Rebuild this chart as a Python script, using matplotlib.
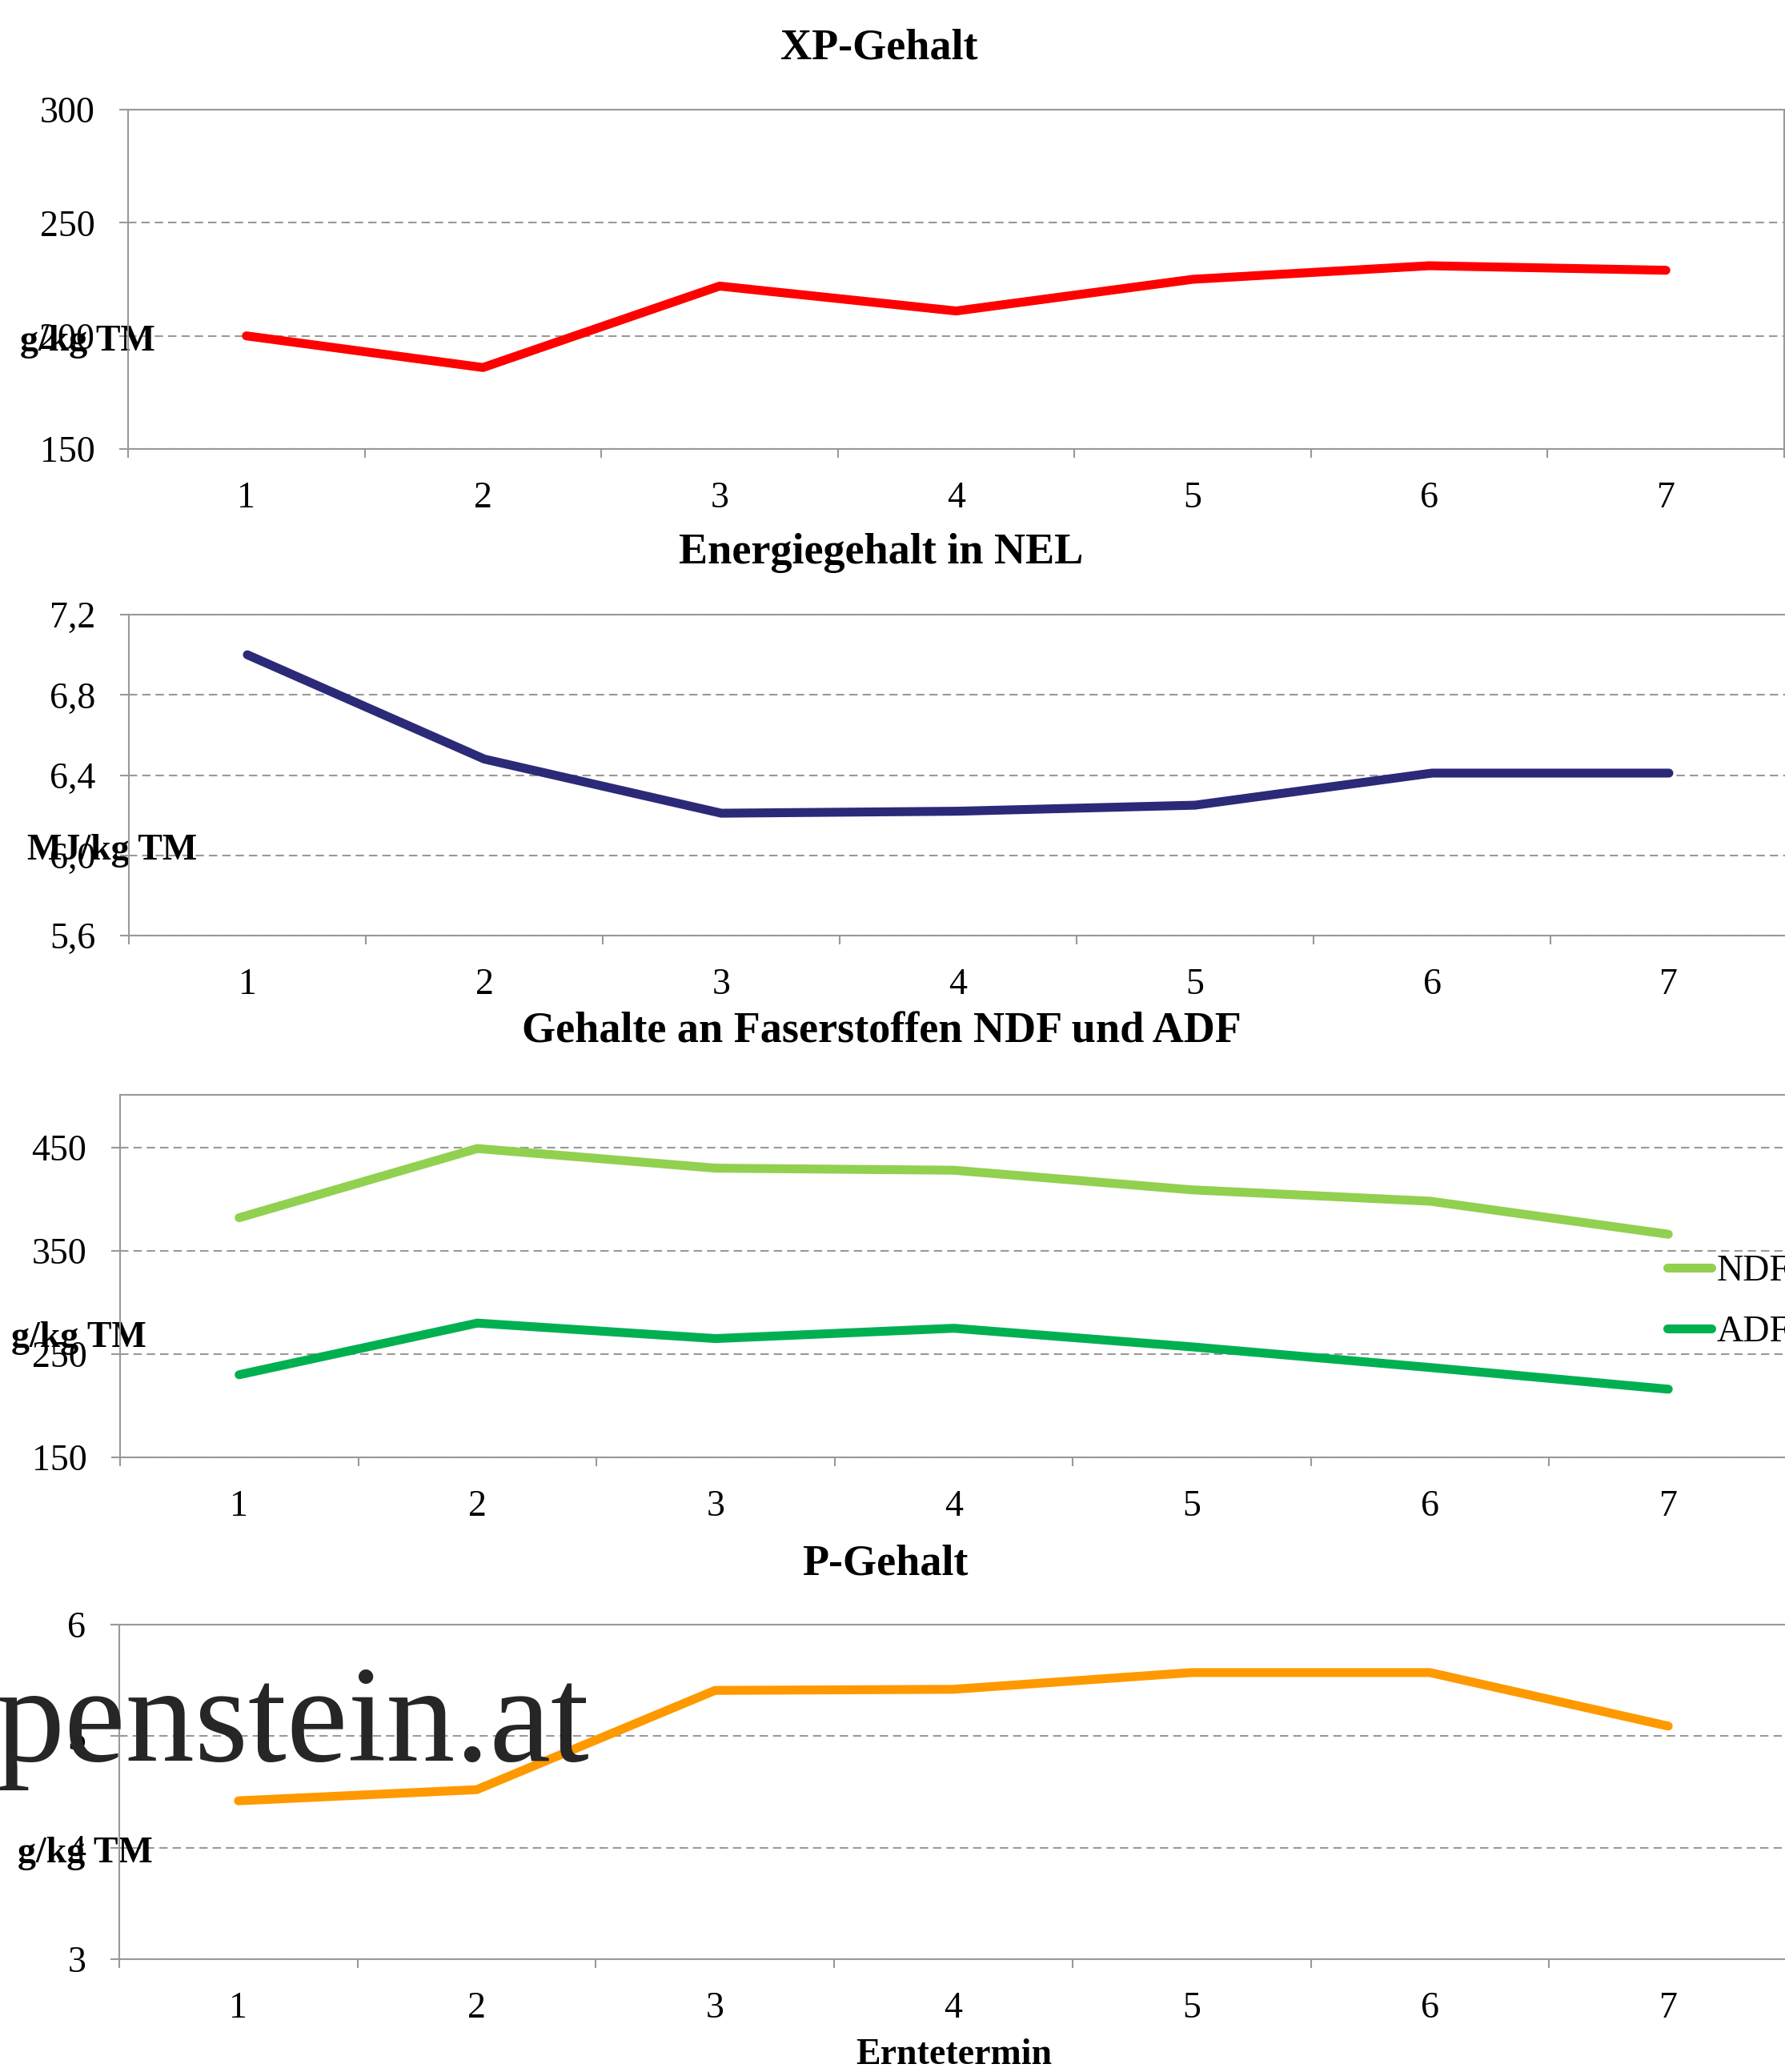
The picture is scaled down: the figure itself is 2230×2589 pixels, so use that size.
import matplotlib
matplotlib.use("Agg")
import numpy as np
from matplotlib import pyplot as plt
from matplotlib.ticker import FuncFormatter

plt.rcParams['font.family'] = ['Liberation Serif', 'DejaVu Serif']

# Daten
termine = [1, 2, 3, 4, 5, 6, 7]
xp = [200, 186, 222, 211, 225, 231, 229]
nel = [7.00, 6.48, 6.21, 6.22, 6.25, 6.41, 6.41]
ndf = [382, 449, 430, 428, 409, 398, 366]
adf = [230, 280, 265, 275, 257, 237, 216]
p_gehalt = [4.42, 4.52, 5.41, 5.42, 5.57, 5.57, 5.09]

W, H = 2230, 2589
fig = plt.figure(figsize=(W / 100, H / 100), dpi=100)


def box(l, t, r, b):
    return [l / W, 1 - b / H, (r - l) / W, (b - t) / H]


def grundform(ax, ylim, yticks, fmt=None):
    ax.set_xlim(0.5, 7.5)
    ax.set_ylim(*ylim)
    ax.set_yticks(yticks)
    if fmt:
        ax.yaxis.set_major_formatter(FuncFormatter(fmt))
    ax.set_xticks(np.arange(0.5, 8, 1))
    ax.set_xticklabels([])
    ax.set_xticks(termine, minor=True)
    ax.set_xticklabels([str(t) for t in termine], minor=True)
    ax.tick_params(axis='x', which='major', length=8, width=1.5, color='#999999')
    ax.tick_params(axis='x', which='minor', length=0, pad=29, labelsize=33)
    ax.tick_params(axis='y', length=8, width=1.5, color='#999999', pad=22, labelsize=33)
    for s in ax.spines.values():
        s.set_color('#999999')
        s.set_linewidth(1.5)
    ax.yaxis.grid(True, color='#999999', lw=1.5, dashes=(5, 3))
    ax.set_axisbelow(True)


def beschriftung(ax, text, x, y):
    ax.set_ylabel(text, rotation=0, fontsize=33, fontweight='bold', ha='center', va='center')
    ax.yaxis.set_label_coords(x / W, 1 - y / H, transform=fig.transFigure)


def titel(text, x, y, size=39):
    fig.text(x / W, 1 - y / H, text, ha='center', va='center', fontsize=size, fontweight='bold')


komma = lambda v, pos: ('%.1f' % v).replace('.', ',')

# XP-Gehalt
ax1 = fig.add_axes(box(160, 137, 2229, 561))
grundform(ax1, (150, 300), [150, 200, 250, 300])
ax1.plot(termine, xp, color='#ff0000', lw=8, solid_capstyle='round', solid_joinstyle='round')
beschriftung(ax1, 'g/kg TM', 109, 427)
titel('XP-Gehalt', 1098, 60)

# Energiegehalt
ax2 = fig.add_axes(box(161, 768, 2233, 1169))
grundform(ax2, (5.6, 7.2), [5.6, 6.0, 6.4, 6.8, 7.2], komma)
ax2.plot(termine, nel, color='#2b2a78', lw=8, solid_capstyle='round', solid_joinstyle='round')
beschriftung(ax2, 'MJ/kg TM', 140, 1063)
titel('Energiegehalt in NEL', 1101, 691)

# Faserstoffe
ax3 = fig.add_axes(box(150, 1368, 2233, 1821))
grundform(ax3, (150, 501), [150, 250, 350, 450])
ax3.plot(termine, ndf, color='#92d050', lw=8, solid_capstyle='round', solid_joinstyle='round', label='NDF')
ax3.plot(termine, adf, color='#00b050', lw=8, solid_capstyle='round', solid_joinstyle='round', label='ADF')
beschriftung(ax3, 'g/kg TM', 98, 1672)
titel('Gehalte an Faserstoffen NDF und ADF', 1101, 1290)
ax3.legend(loc='upper left', bbox_to_anchor=(2083 / W, 1 - 1568 / H), bbox_transform=fig.transFigure,
           frameon=False, borderpad=0, borderaxespad=0, fontsize=33, handlelength=1.2,
           handletextpad=0.15, labelspacing=0.72)

# P-Gehalt
ax4 = fig.add_axes(box(149, 2030, 2233, 2448))
grundform(ax4, (3, 6), [3, 4, 5, 6])
ax4.plot(termine, p_gehalt, color='#ff9900', lw=8, solid_capstyle='round', solid_joinstyle='round')
beschriftung(ax4, 'g/kg TM', 106, 2316)
titel('P-Gehalt', 1106, 1955)
titel('Erntetermin', 1192, 2568, size=33)

# Wasserzeichen
fig.text(736 / W, 1 - 2200 / H, 'penstein.at', ha='right', va='baseline', fontsize=124,
         color='#262626', zorder=10)

plt.savefig('out.png', dpi=100)
